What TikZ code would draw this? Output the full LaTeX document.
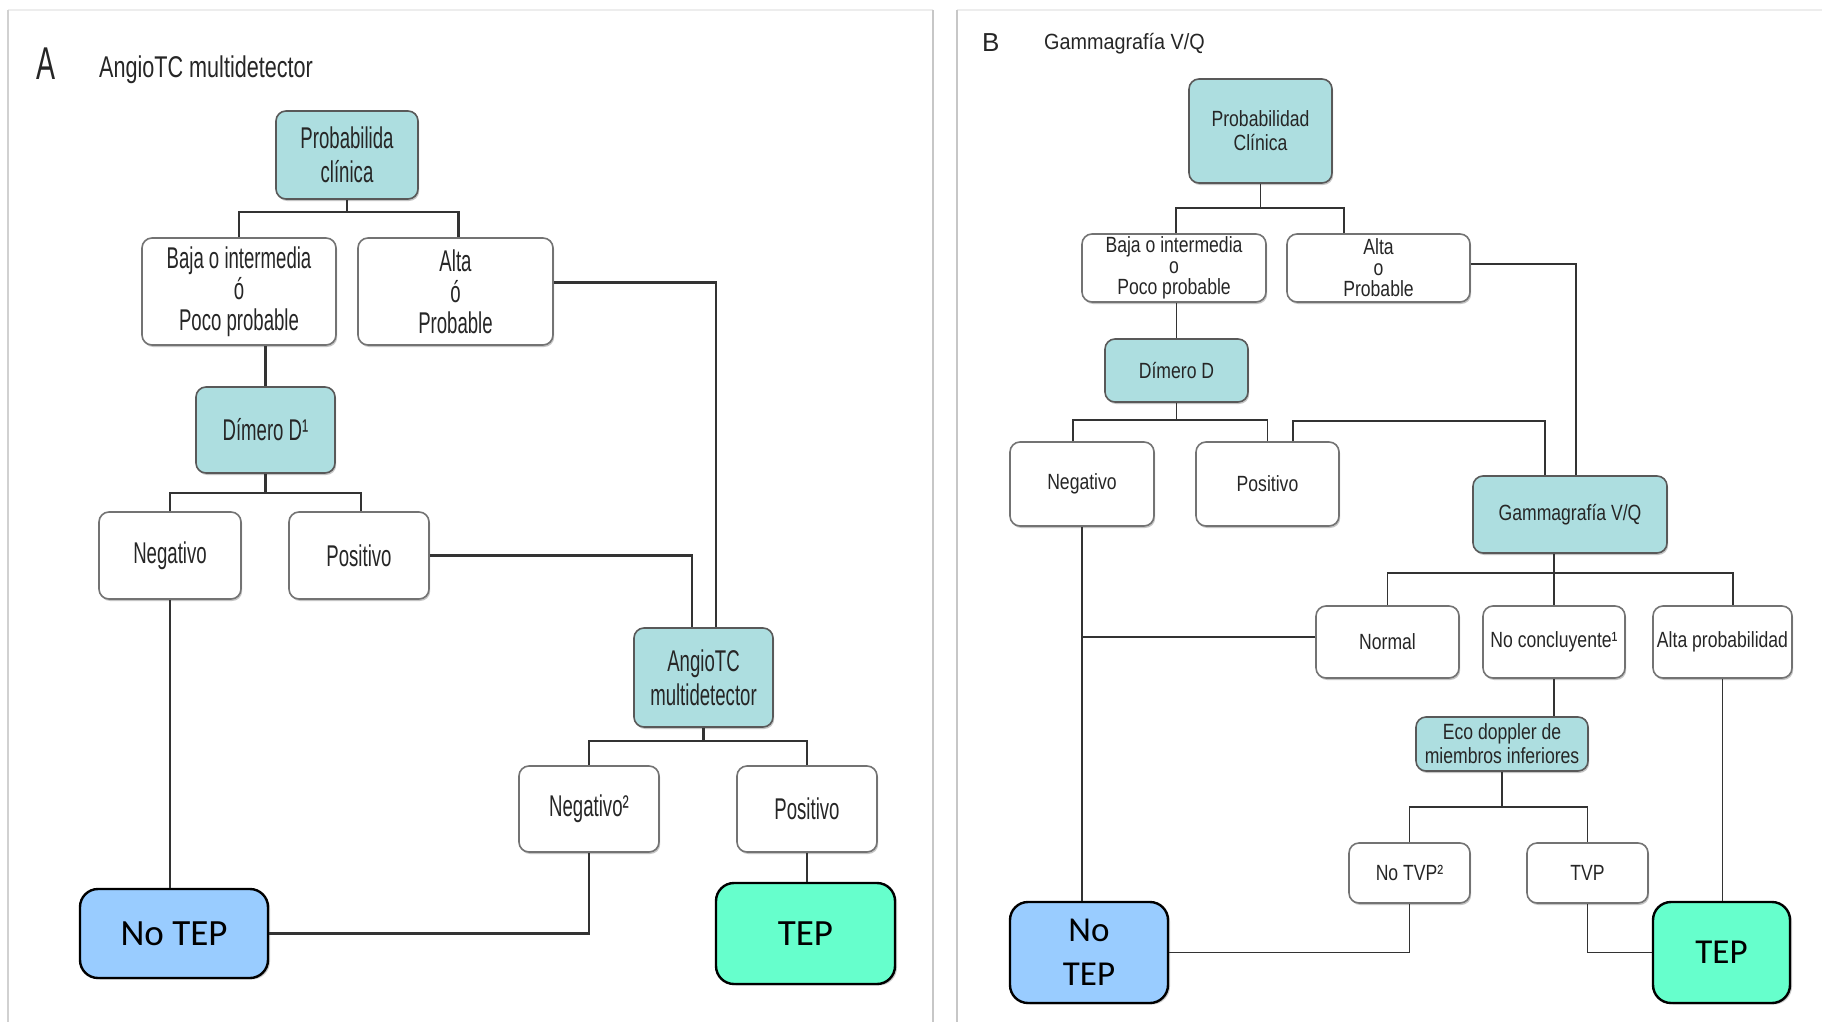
\documentclass[tikz,border=0pt]{standalone}
\usepackage{fontspec}
\setmainfont{Liberation Sans}
\newfontfamily\condA[FakeStretch=0.62]{Liberation Sans}
\newfontfamily\condT[FakeStretch=0.72]{Liberation Sans}
\newfontfamily\condB[FakeStretch=0.8]{Liberation Sans}
\newfontfamily\condBt[FakeStretch=0.9]{Liberation Sans}
\newfontfamily\calib{Carlito}
\usetikzlibrary{shadows}

\definecolor{tealbox}{HTML}{ADDEE0}
\definecolor{noblue}{HTML}{99CCFF}
\definecolor{tepgreen}{HTML}{66FFCC}
\definecolor{ink}{HTML}{262626}

\tikzset{
  wh/.style 2 args={minimum width=#1, minimum height=#2},
  basebox/.style={rectangle, rounded corners=10pt, inner sep=0pt, align=center,
    text=ink, line width=1.6pt,
    drop shadow={shadow xshift=1.2pt, shadow yshift=-2pt, fill=black!45, opacity=.5}},
  whiteA/.style={basebox, draw=black!55, fill=white, font=\condA\fontsize{30}{34}\selectfont},
  tealA/.style={basebox, draw=black!65, fill=tealbox, font=\condA\fontsize{30}{34}\selectfont},
  whiteB/.style={basebox, draw=black!55, fill=white, font=\condB\fontsize{22}{21}\selectfont},
  tealB/.style={basebox, draw=black!65, fill=tealbox, font=\condB\fontsize{22}{24}\selectfont},
  endbox/.style={rectangle, rounded corners=18pt, draw=black, line width=2.4pt,
    inner sep=0pt, align=center, text=black,
    drop shadow={shadow xshift=2pt, shadow yshift=-1.5pt, fill=black!40, opacity=.5}},
  connA/.style={draw=black!80, line width=2.2pt},
  connB/.style={draw=black!80, line width=1.8pt},
  panelline/.style={draw=black!22, line width=2.5pt},
}

\begin{document}
\begin{tikzpicture}[x=1pt,y=-1pt]
\useasboundingbox[fill=white] (0,0) rectangle (1822,1022);

% panel frames
\draw[draw=black!7, line width=2pt] (8,10) -- (933,10);
\draw[draw=black!7, line width=2pt] (957,10) -- (1822,10);
\draw[draw=black!18, line width=2pt] (8,10) -- (8,1022);
\draw[panelline] (933,10) -- (933,1022);
\draw[panelline] (957,10) -- (957,1022);

% ---------- panel A: AngioTC multidetector ----------
\node[anchor=base west, inner sep=0pt, text=ink, font=\condA\fontsize{46}{46}\selectfont] (labA) at (36,80) {A};
\node[anchor=base west, inner sep=0pt, text=ink, font=\condT\fontsize{30}{30}\selectfont] (titA) at (99,78) {AngioTC multidetector};

\node[tealA, wh={142pt}{88pt}] (pA) at (347,155) {Probabilida\\clínica};
\node[whiteA, wh={194pt}{107pt}, font=\condA\fontsize{30}{31}\selectfont] (bajaA) at (239,291.5) {Baja o intermedia\\ó\\Poco probable};
\node[whiteA, wh={195pt}{107pt}, font=\condA\fontsize{30}{31}\selectfont] (altaA) at (455.5,291.5) {Alta\\ó\\Probable};
\node[tealA, wh={139pt}{86pt}] (dimA) at (265.5,430) {Dímero D¹};
\node[whiteA, wh={142pt}{87pt}] (negA) at (170,555.5) {Negativo};
\node[whiteA, wh={140pt}{87pt}] (posA) at (359,555.5) {Positivo};
\node[tealA, wh={139pt}{99pt}] (angA) at (703.5,677.5) {AngioTC\\multidetector};
\node[whiteA, wh={140pt}{86pt}] (neg2A) at (589,809) {Negativo²};
\node[whiteA, wh={140pt}{86pt}] (pos2A) at (807,809) {Positivo};
\node[endbox, fill=noblue, wh={188pt}{89pt}, font=\calib\fontsize{37}{40}\selectfont] (noA) at (174,933.5) {No TEP};
\node[endbox, fill=tepgreen, wh={179pt}{101pt}, font=\calib\fontsize{37}{40}\selectfont] (tepA) at (805.5,933.5) {TEP};

\draw[connA] (pA.south) -- (pA.south |- 0,212);
\draw[connA] (bajaA.north) -- (bajaA.north |- 0,212) -| ([xshift=3pt]altaA.north);
\draw[connA] ([yshift=9pt]altaA.east) -| ([xshift=12.5pt]angA.north);
\draw[connA] (bajaA.south -| dimA.north) -- (dimA.north);
\draw[connA] (dimA.south) -- (dimA.south |- 0,493);
\draw[connA] (negA.north) -- (negA.north |- 0,493) -| ([xshift=2pt]posA.north);
\draw[connA] (posA.east) -| ([xshift=-11.5pt]angA.north);
\draw[connA] (angA.south) -- (angA.south |- 0,741);
\draw[connA] (neg2A.north) -- (neg2A.north |- 0,741) -| (pos2A.north);
\draw[connA] (negA.south) -- (negA.south |- noA.north);
\draw[connA] (neg2A.south) |- (noA.east);
\draw[connA] (pos2A.south) -- (pos2A.south |- tepA.north);

% ---------- panel B: Gammagrafia V/Q ----------
\node[anchor=base west, inner sep=0pt, text=ink, font=\fontsize{26}{26}\selectfont] (labB) at (982,52) {B};
\node[anchor=base west, inner sep=0pt, text=ink, font=\condBt\fontsize{22}{22}\selectfont] (titB) at (1044,50) {Gammagrafía V/Q};

\node[tealB, wh={143pt}{104pt}] (pB) at (1260.5,131) {Probabilidad\\Clínica};
\node[whiteB, wh={184pt}{68pt}] (bajaB) at (1174,268) {Baja o intermedia\\o\\Poco probable};
\node[whiteB, wh={183pt}{68pt}] (altaB) at (1378.5,268) {Alta\\o\\Probable};
\node[tealB, wh={143pt}{63pt}] (dimB) at (1176.5,370.5) {Dímero D};
\node[whiteB, wh={144pt}{84pt}] (negB) at (1082,484) {Negativo};
\node[whiteB, wh={143pt}{84pt}] (posB) at (1267.5,484) {Positivo};
\node[tealB, wh={194pt}{77pt}] (gamB) at (1570,514.5) {Gammagrafía V/Q};
\node[whiteB, wh={143pt}{72pt}] (normB) at (1387.5,642) {Normal};
\node[whiteB, wh={142pt}{72pt}] (ncB) at (1554,642) {No concluyente¹};
\node[whiteB, wh={139pt}{72pt}] (apB) at (1722.5,642) {Alta probabilidad};
\node[tealB, wh={172pt}{54pt}] (ecoB) at (1502,744) {Eco doppler de\\miembros inferiores};
\node[whiteB, wh={121pt}{60pt}] (ntvpB) at (1409.5,873) {No TVP²};
\node[whiteB, wh={121pt}{60pt}] (tvpB) at (1587.5,873) {TVP};
\node[endbox, fill=noblue, wh={158pt}{101pt}, font=\calib\fontsize{35}{44}\selectfont] (noB) at (1089,952.5) {No\\TEP};
\node[endbox, fill=tepgreen, wh={137pt}{101pt}, font=\calib\fontsize{35}{44}\selectfont] (tepB) at (1721.5,952.5) {TEP};

\draw[connB] (pB.south) -- (pB.south |- 0,209);
\draw[connB] ([xshift=2pt]bajaB.north) -- ++(0,-25) -| ([xshift=-34.5pt]altaB.north);
\draw[connB] ([yshift=4pt]altaB.east) -| ([xshift=6pt]gamB.north);
\draw[connB] (bajaB.south -| dimB.north) -- (dimB.north);
\draw[connB] (dimB.south) -- (dimB.south |- 0,421);
\draw[connB] ([xshift=-9pt]negB.north) -- ++(0,-21) -| (posB.north);
\draw[connB] ([xshift=25.5pt]posB.north) -- ++(0,-20) -| ([xshift=-25pt]gamB.north);
\draw[connB] (ncB.north) -- (ncB.north |- gamB.south);
\draw[connB] (normB.north) -- (normB.north |- 0,573) -| ([xshift=10.5pt]apB.north);
\draw[connB] (negB.south) -- (negB.south |- noB.north);
\coordinate (normIn) at ([yshift=5pt]normB.west);
\draw[connB] (normIn) -- (normIn -| negB.south);
\draw[connB] (ncB.south) -- (ncB.south |- ecoB.north);
\draw[connB] (ecoB.south) -- (ecoB.south |- 0,807);
\draw[connB] (ntvpB.north) -- (ntvpB.north |- 0,807) -| (tvpB.north);
\draw[connB] (ntvpB.south) |- (noB.east);
\draw[connB] (tvpB.south) |- (tepB.west);
\draw[connB] (apB.south) -- (apB.south |- tepB.north);
\end{tikzpicture}
\end{document}
